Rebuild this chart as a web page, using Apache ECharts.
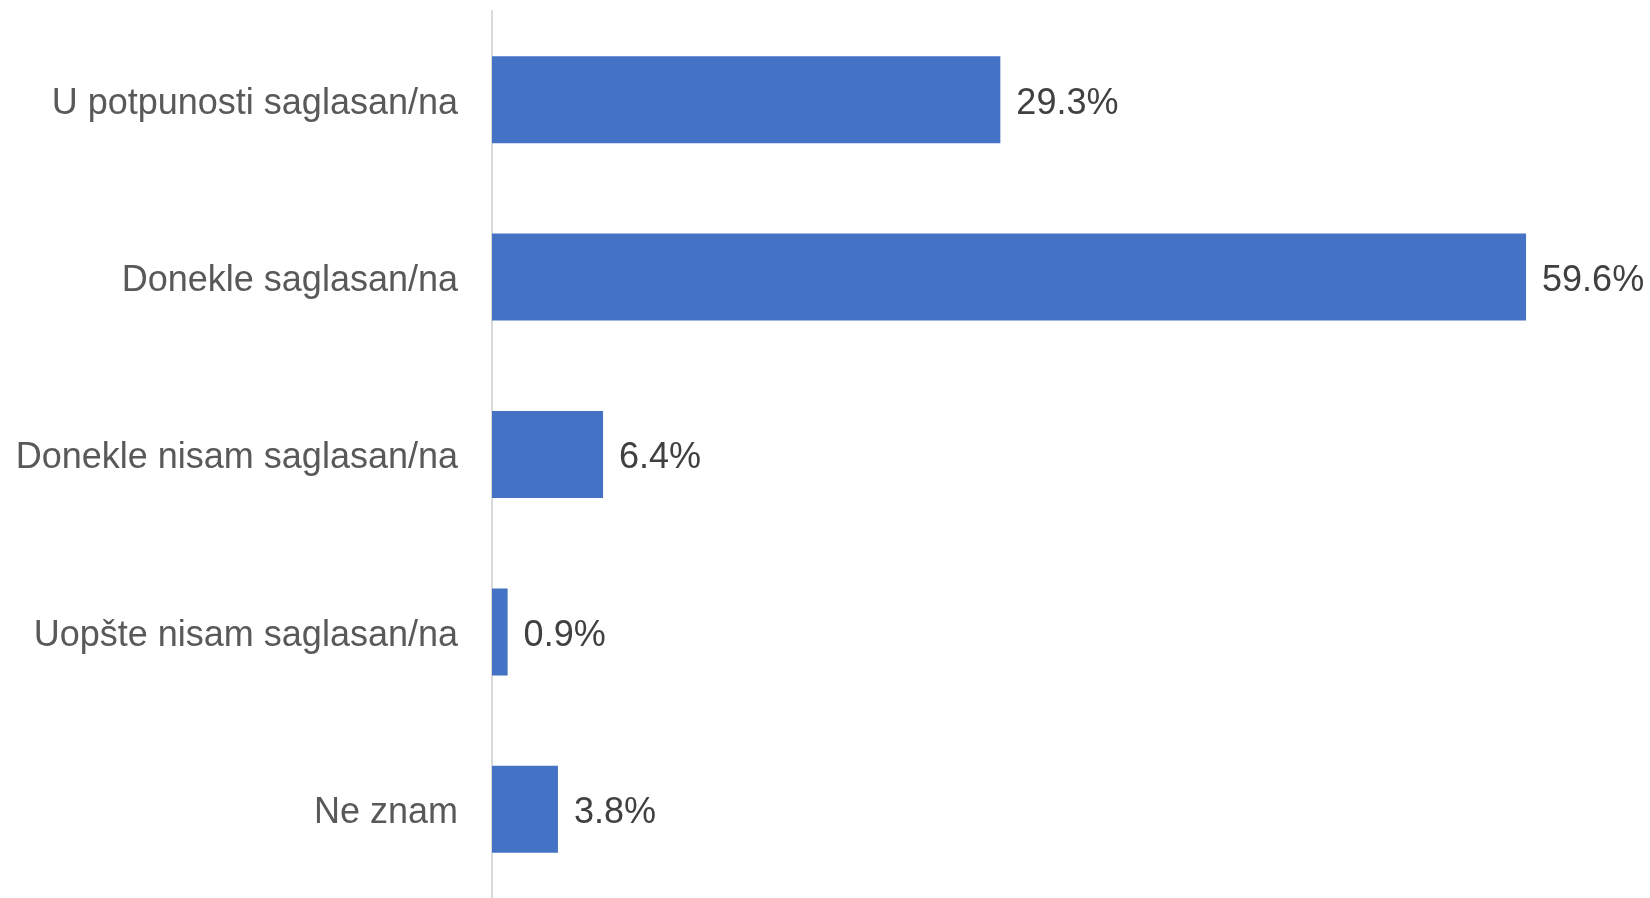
<!DOCTYPE html>
<html><head><meta charset="utf-8">
<script src="https://cdn.jsdelivr.net/npm/echarts@6/dist/echarts.min.js"></script>
<style>html,body{margin:0;padding:0;background:#fff}#c{width:1650px;height:898px}</style>
</head><body><div id="c"></div>
<script>
const categories = ["U potpunosti saglasan/na","Donekle saglasan/na","Donekle nisam saglasan/na","Uopšte nisam saglasan/na","Ne znam"];
const values = [29.3, 59.6, 6.4, 0.9, 3.8];
const chart = echarts.init(document.getElementById('c'));
chart.setOption({
  animation: false,
  grid: {left: 492, right: 117, top: 11, height: 892, containLabel: false},
  xAxis: {type: 'value', min: 0, max: 60, show: false},
  yAxis: {
    type: 'category', data: categories, inverse: true,
    axisLine: {show: true, lineStyle: {color: '#D9D9D9', width: 2}},
    axisTick: {show: false},
    axisLabel: {
      color: '#595959', fontFamily: 'Liberation Sans, Arial, sans-serif', fontSize: 36, margin: 34,
      formatter: v => '{a|' + v + '}',
      rich: {a: {color: '#595959', fontFamily: 'Liberation Sans, Arial, sans-serif', fontSize: 36, padding: [8, 0, 0, 0]}}
    }
  },
  series: [{
    type: 'bar', data: values, barWidth: 87,
    itemStyle: {color: '#4472C4'},
    label: {show: true, position: 'right', distance: 16, color: '#404040', offset: [0, 4],
      fontFamily: 'Liberation Sans, Arial, sans-serif', fontSize: 36, formatter: p => p.value.toFixed(1) + '%'}
  }]
});
</script></body></html>
